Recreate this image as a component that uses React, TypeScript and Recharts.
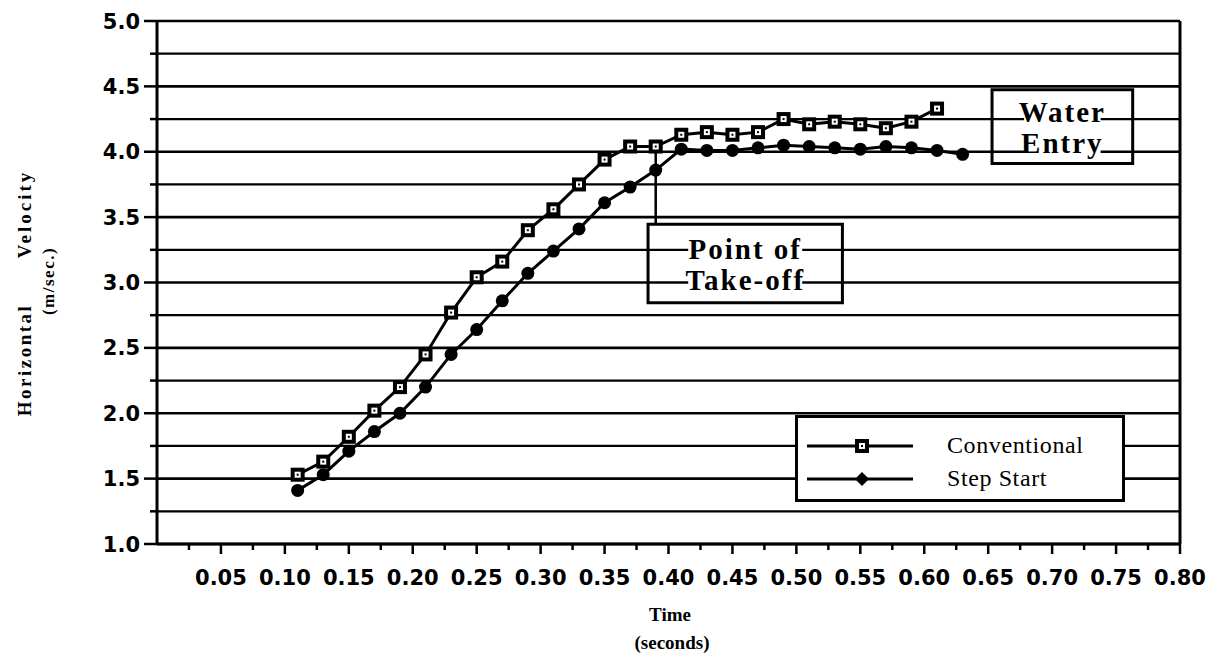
import React from 'react';
import {
  LineChart,
  Line,
  XAxis,
  YAxis,
  CartesianGrid,
  ReferenceLine,
  ReferenceArea,
  Legend,
} from 'recharts';

// time (s) of each digitised frame
const times = [
  0.11, 0.13, 0.15, 0.17, 0.19, 0.21, 0.23, 0.25, 0.27, 0.29, 0.31, 0.33, 0.35, 0.37,
  0.39, 0.41, 0.43, 0.45, 0.47, 0.49, 0.51, 0.53, 0.55, 0.57, 0.59, 0.61, 0.63,
];

// horizontal velocity (m/sec.)
const conventional = [
  1.53, 1.63, 1.82, 2.02, 2.2, 2.45, 2.77, 3.04, 3.16, 3.4, 3.56, 3.75, 3.94, 4.04,
  4.04, 4.13, 4.15, 4.13, 4.15, 4.25, 4.21, 4.23, 4.21, 4.18, 4.23, 4.33, null,
];
const stepStart = [
  1.41, 1.53, 1.71, 1.86, 2.0, 2.2, 2.45, 2.64, 2.86, 3.07, 3.24, 3.41, 3.61, 3.73,
  3.86, 4.02, 4.01, 4.01, 4.03, 4.05, 4.04, 4.03, 4.02, 4.04, 4.03, 4.01, 3.98,
];

const seriesNames = ['Conventional', 'Step Start'];

const xMajorTicks = [
  0.05, 0.1, 0.15, 0.2, 0.25, 0.3, 0.35, 0.4, 0.45, 0.5, 0.55, 0.6, 0.65, 0.7, 0.75, 0.8,
];
const xMinorTicks = [
  0.025, 0.075, 0.125, 0.175, 0.225, 0.275, 0.325, 0.375, 0.425, 0.475, 0.525, 0.575,
  0.625, 0.675, 0.725, 0.775,
];
const yTicks = [1.0, 1.25, 1.5, 1.75, 2.0, 2.25, 2.5, 2.75, 3.0, 3.25, 3.5, 3.75, 4.0, 4.25, 4.5, 4.75, 5.0];

// annotation boxes, in data units
const takeoffTime = 0.39;
const takeoffBox = { x1: 0.384, x2: 0.536, y1: 2.845, y2: 3.445 };
const waterBox = { x1: 0.653, x2: 0.763, y1: 3.91, y2: 4.475 };

const data = times.map((t, i) => ({
  t,
  conventional: conventional[i],
  stepStart: stepStart[i],
}));
const xTicks = [...xMinorTicks, ...xMajorTicks].sort((a, b) => a - b);
const takeoffValue = conventional[times.indexOf(takeoffTime)] as number;

const near = (a: number, b: number) => Math.abs(a - b) < 1e-6;
const isMajorX = (v: number) => xMajorTicks.some((m) => near(m, v));
const isMajorY = (v: number) => near(Math.round(v * 2) / 2, v);

const tickFont = '"DejaVu Sans", sans-serif';
const serif = '"Liberation Serif", "Times New Roman", serif';

const XTick = (props: any) => {
  const { x, y, payload } = props;
  const major = isMajorX(payload.value);
  return (
    <g>
      <line x1={x} x2={x} y1={y} y2={y + (major ? 10 : 6)} stroke="#000" strokeWidth={2.5} />
      {major && (
        <text x={x} y={y + 41} textAnchor="middle" fontFamily={tickFont} fontWeight="bold" fontSize={21} fill="#000">
          {payload.value.toFixed(2)}
        </text>
      )}
    </g>
  );
};

const YTick = (props: any) => {
  const { x, y, payload } = props;
  const major = isMajorY(payload.value);
  return (
    <g>
      <line x1={x - (major ? 13 : 7)} x2={x} y1={y} y2={y} stroke="#000" strokeWidth={2.5} />
      {major && (
        <text x={x - 17} y={y + 7.5} textAnchor="end" fontFamily={tickFont} fontWeight="bold" fontSize={21} fill="#000">
          {payload.value.toFixed(1)}
        </text>
      )}
    </g>
  );
};

const GridLine = (p: any) => (
  <line
    key={`g-${p.index}`}
    x1={p.x1}
    y1={p.y1}
    x2={p.x2}
    y2={p.y2}
    stroke="#000"
    strokeWidth={p.index % 2 === 0 ? 2.6 : 2.2}
  />
);

const SquareDot = (props: any) => {
  const { cx, cy, index } = props;
  if (cx == null || cy == null || props.value == null) return <g key={`s-${index}`} />;
  return (
    <g key={`s-${index}`}>
      <rect x={cx - 7} y={cy - 7} width={14} height={14} fill="#000" />
      <rect x={cx - 3} y={cy - 3} width={6} height={6} fill="#fff" />
      <rect x={cx - 1} y={cy - 1} width={2} height={2} fill="#000" />
    </g>
  );
};

const RoundDot = (props: any) => {
  const { cx, cy, index } = props;
  if (cx == null || cy == null) return <g key={`r-${index}`} />;
  return <circle key={`r-${index}`} cx={cx} cy={cy} r={6.5} fill="#000" />;
};

const BoxLabel = ({ viewBox, lines }: { viewBox: any; lines: string[] }) => {
  const { x, y, width, height } = viewBox;
  const cx = x + width / 2;
  const cy = y + height / 2;
  return (
    <g>
      {lines.map((s, i) => {
        const base = cy - 4.5 + i * 31;
        const w = s.length * 12.5 + 14;
        return (
          <g key={s}>
            <rect x={cx - w / 2} y={base - 23} width={w} height={29} fill="#fff" />
            <text x={cx} y={base} textAnchor="middle" fontFamily={serif} fontWeight="bold" fontSize={29} letterSpacing={2} fill="#000">
              {s}
            </text>
          </g>
        );
      })}
    </g>
  );
};

const legendFont = '"Liberation Serif", serif';

const LegendBox = () => (
  <div style={{ width: 330, height: 87, border: '3px solid #000', background: '#fff', boxSizing: 'border-box' }}>
    <svg width={324} height={81} style={{ display: 'block' }}>
      <line x1={9} x2={115} y1={28} y2={28} stroke="#000" strokeWidth={3} />
      <rect x={57} y={21} width={14} height={14} fill="#000" />
      <rect x={61} y={25} width={6} height={6} fill="#fff" />
      <rect x={63} y={27} width={2} height={2} fill="#000" />
      <text x={149} y={35} fontFamily={legendFont} fontSize={24} letterSpacing={0.6} fill="#000">
        {seriesNames[0]}
      </text>
      <line x1={9} x2={115} y1={61} y2={61} stroke="#000" strokeWidth={3} />
      <polygon points="64,54 71,61 64,68 57,61" fill="#000" />
      <text x={149} y={68} fontFamily={legendFont} fontSize={24} letterSpacing={0.6} fill="#000">
        {seriesNames[1]}
      </text>
    </svg>
  </div>
);

export default function App() {
  return (
    <div style={{ position: 'absolute', left: 0, top: 0, width: 1224, height: 660, background: '#fff' }}>
      <LineChart width={1224} height={660} data={data} margin={{ top: 21, right: 44, left: 97, bottom: 76 }}>
        <CartesianGrid vertical={false} horizontal={GridLine} />
        <XAxis
          dataKey="t"
          type="number"
          domain={[0, 0.8]}
          ticks={xTicks}
          interval={0}
          height={40}
          tickSize={0}
          tickMargin={0}
          tickLine={false}
          tick={<XTick />}
          axisLine={{ stroke: '#000', strokeWidth: 3 }}
        />
        <YAxis
          type="number"
          domain={[1, 5]}
          ticks={yTicks}
          interval={0}
          width={60}
          tickSize={0}
          tickMargin={0}
          tickLine={false}
          tick={<YTick />}
          axisLine={{ stroke: '#000', strokeWidth: 3 }}
        />
        <ReferenceLine x={0.8} stroke="#000" strokeWidth={3} />
        <ReferenceLine
          segment={[
            { x: takeoffTime, y: takeoffValue },
            { x: takeoffTime, y: takeoffBox.y2 },
          ]}
          stroke="#000"
          strokeWidth={2.5}
        />
        <ReferenceArea
          {...takeoffBox}
          fill="none"
          stroke="#000"
          strokeWidth={3}
          label={(p: any) => <BoxLabel viewBox={p.viewBox} lines={['Point of', 'Take-off']} />}
        />
        <ReferenceArea
          {...waterBox}
          fill="none"
          stroke="#000"
          strokeWidth={3}
          label={(p: any) => <BoxLabel viewBox={p.viewBox} lines={['Water', 'Entry']} />}
        />
        <Line
          dataKey="stepStart"
          name={seriesNames[1]}
          stroke="#000"
          strokeWidth={3}
          dot={<RoundDot />}
          activeDot={false}
          isAnimationActive={false}
        />
        <Line
          dataKey="conventional"
          name={seriesNames[0]}
          stroke="#000"
          strokeWidth={3}
          dot={<SquareDot />}
          activeDot={false}
          isAnimationActive={false}
        />
        <Legend
          layout="vertical"
          align="center"
          verticalAlign="middle"
          content={<LegendBox />}
          wrapperStyle={{ left: 795, top: 415, width: 330, height: 87 }}
        />
        <text x={670} y={621} textAnchor="middle" fontFamily={serif} fontWeight="bold" fontSize={19} fill="#000">
          Time
        </text>
        <text x={672} y={649} textAnchor="middle" fontFamily={serif} fontWeight="bold" fontSize={19} fill="#000">
          (seconds)
        </text>
        <g transform="rotate(-90)">
          <text x={-360} y={31} textAnchor="middle" fontFamily={serif} fontWeight="bold" fontSize={19} letterSpacing={2.5} fill="#000">
            Horizontal
          </text>
          <text x={-214} y={31} textAnchor="middle" fontFamily={serif} fontWeight="bold" fontSize={19} letterSpacing={3} fill="#000">
            Velocity
          </text>
          <text x={-281} y={54} textAnchor="middle" fontFamily={serif} fontWeight="bold" fontSize={17} letterSpacing={1.5} fill="#000">
            (m/sec.)
          </text>
        </g>
      </LineChart>
    </div>
  );
}
